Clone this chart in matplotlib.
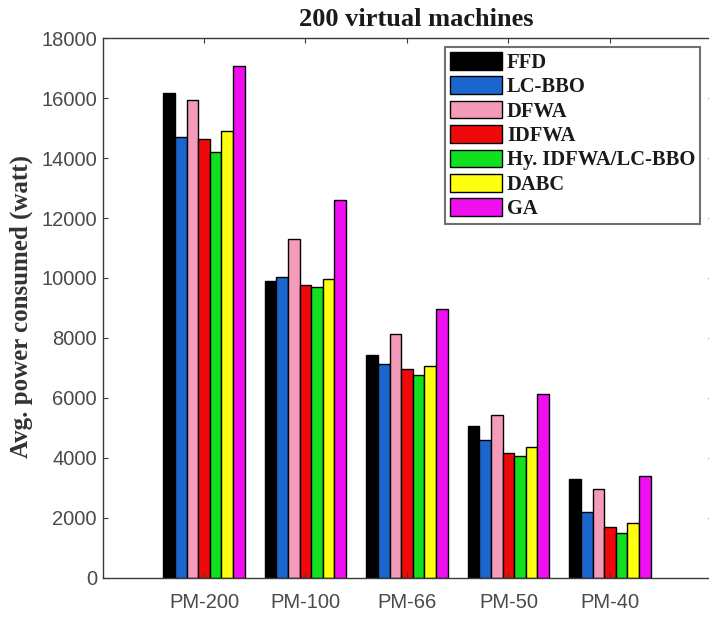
import matplotlib
matplotlib.use("Agg")
import matplotlib.pyplot as plt
import numpy as np

categories = ["PM-200", "PM-100", "PM-66", "PM-50", "PM-40"]
series_names = ["FFD", "LC-BBO", "DFWA", "IDFWA", "Hy. IDFWA/LC-BBO", "DABC", "GA"]
FFD = [16160, 9890, 7420, 5050, 3280]
LC_BBO = [14690, 10030, 7120, 4580, 2190]
DFWA = [15940, 11300, 8140, 5420, 2940]
IDFWA = [14640, 9750, 6970, 4140, 1690]
HY = [14190, 9690, 6750, 4050, 1470]
DABC = [14920, 9950, 7060, 4360, 1810]
GA = [17060, 12600, 8970, 6110, 3380]
yticks = [0, 2000, 4000, 6000, 8000, 10000, 12000, 14000, 16000, 18000]

series = [FFD, LC_BBO, DFWA, IDFWA, HY, DABC, GA]
colors = ["#000000", "#1a66cc", "#f59bba", "#ee0a0a", "#10e020", "#ffff10", "#ee10ee"]

W, H = 709, 618
fig = plt.figure(figsize=(W / 100, H / 100), dpi=100)
ax_l, ax_r, ax_t, ax_b = 102.5, 713.0, 38.3, 577.5
ax = fig.add_axes([ax_l / W, 1 - ax_b / H, (ax_r - ax_l) / W, (ax_b - ax_t) / H])

n = len(series)
group_w = 0.8
bw = group_w / n
x = np.arange(1, len(categories) + 1)
for i, (vals, c, name) in enumerate(zip(series, colors, series_names)):
    offs = -group_w / 2 + bw * (i + 0.5)
    ax.bar(x + offs, vals, width=bw, color=c, edgecolor="black", linewidth=1.0, label=name)

ax.set_xlim(0, 6.015)
ax.set_ylim(0, 18000)
ax.set_yticks(yticks)
ax.set_yticklabels([str(v) for v in yticks])
ax.set_xticks(x)
ax.set_xticklabels(categories)

tick_col = "#4a4a4a"
for s in ax.spines.values():
    s.set_color("#3a3a3a")
    s.set_linewidth(1.0)
ax.tick_params(axis="both", direction="in", length=3.5, width=0.8, color="#3a3a3a",
               top=True, right=True, labelcolor=tick_col, labelsize=14.5)
ax.tick_params(axis="x", pad=11.5)
ax.tick_params(axis="y", pad=4)
for lab in ax.get_xticklabels() + ax.get_yticklabels():
    lab.set_family("Liberation Sans")

fig.text(416 / W, 1 - 19 / H, "200 virtual machines", ha="center", va="center",
         family="Liberation Serif", fontweight="bold", fontsize=19, color="#1a1a1a")
fig.text(21 / W, 1 - 306 / H, "Avg. power consumed (watt)", rotation=90, ha="center",
         va="center", family="Liberation Serif", fontweight="bold", fontsize=18, color="#333333")

leg = ax.legend(loc="upper left", bbox_to_anchor=(445 / W, 1 - 47.3 / H),
                bbox_transform=fig.transFigure, borderaxespad=0,
                prop={"family": "Liberation Serif", "weight": "bold", "size": 14.8},
                handlelength=2.55, handleheight=0.95, handletextpad=0.25,
                borderpad=0.22, labelspacing=0.17, fancybox=False, framealpha=1,
                edgecolor="#707070")
leg.get_frame().set_linewidth(1.5)
for t in leg.get_texts():
    t.set_color("#1a1a1a")

fig.savefig("out.png", dpi=100)
